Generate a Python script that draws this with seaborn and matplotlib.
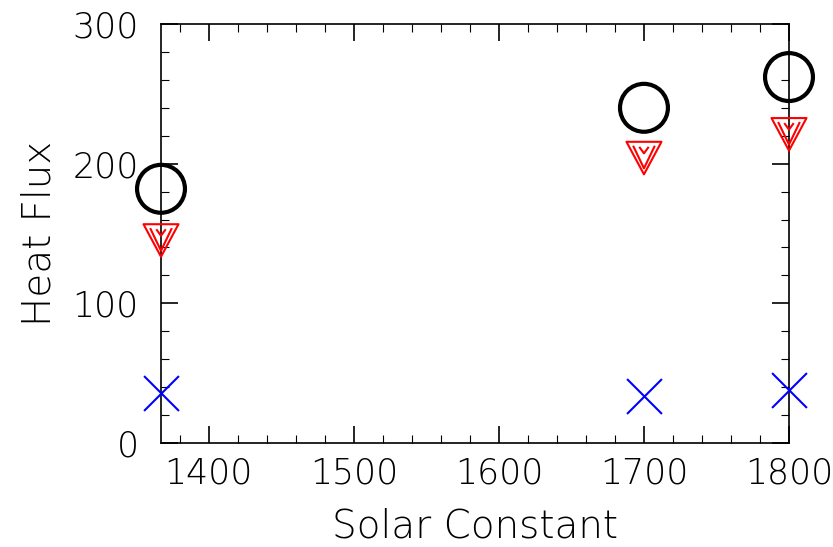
import numpy as np
import pandas as pd
import matplotlib
matplotlib.use("Agg")
import matplotlib.pyplot as plt
from matplotlib.path import Path
from matplotlib.ticker import MultipleLocator
import seaborn as sns

# Heat flux components versus solar constant
solar_constant = [1367, 1700, 1800]
flux_circle = [182, 240, 262]
flux_triangle = [145, 204, 221]
flux_cross = [36, 34, 38]

x_ticks = [1400, 1500, 1600, 1700, 1800]
y_ticks = [0, 100, 200, 300]

sns.set_theme(style="ticks")
plt.rcParams["font.family"] = ["DejaVu Sans"]
plt.rcParams["font.weight"] = "light"
plt.rcParams["axes.labelweight"] = "light"
plt.rcParams["axes.labelcolor"] = "black"
plt.rcParams["text.color"] = "black"

# Down-pointing triangle with two nested open V strokes inside
h = 0.93
verts = [(-1, h), (1, h), (0, -h), (-1, h),
         (-0.62, 0.76 * h), (0, -0.63 * h), (0.62, 0.76 * h),
         (-0.27, 0.69 * h), (0, 0.29 * h), (0.27, 0.69 * h)]
codes = [Path.MOVETO, Path.LINETO, Path.LINETO, Path.CLOSEPOLY,
         Path.MOVETO, Path.LINETO, Path.LINETO,
         Path.MOVETO, Path.LINETO, Path.LINETO]
nested_v = Path(verts, codes)

df = pd.DataFrame({"sc": solar_constant, "circ": flux_circle,
                   "tri": flux_triangle, "cross": flux_cross})

fig = plt.figure(figsize=(8.33, 5.47), dpi=100)
ax = fig.add_axes([161 / 833, 104 / 547, 628 / 833, 419 / 547])

sns.scatterplot(data=df, x="sc", y="circ", ax=ax, marker="o", s=1190,
                facecolor="none", edgecolor="black", linewidth=3, clip_on=False, zorder=3)
sns.scatterplot(data=df, x="sc", y="tri", ax=ax, marker=nested_v, s=635,
                facecolor="none", edgecolor="red", linewidth=1.5, clip_on=False, zorder=3)
sns.scatterplot(data=df, x="sc", y="cross", ax=ax, marker="x", s=630,
                color="blue", linewidth=1.5, clip_on=False, zorder=3)

ax.set_xlim(1367, 1800)
ax.set_ylim(0, 300)
ax.set_xticks(x_ticks)
ax.set_yticks(y_ticks)
ax.xaxis.set_minor_locator(MultipleLocator(20))
ax.yaxis.set_minor_locator(MultipleLocator(20))
ax.tick_params(which="both", direction="in", top=True, right=True,
               colors="black", labelcolor="black")
ax.tick_params(which="major", length=12, width=1.2, labelsize=25, pad=10)
ax.tick_params(axis="y", which="major", pad=16)
ax.tick_params(which="minor", length=6, width=0.8)
for s in ax.spines.values():
    s.set_linewidth(1.2)
    s.set_color("black")

ax.set_xlabel("Solar Constant", fontsize=28, labelpad=12, color="black")
ax.set_ylabel("Heat Flux", fontsize=28, labelpad=10, color="black")

fig.savefig("out.png", dpi=100)
